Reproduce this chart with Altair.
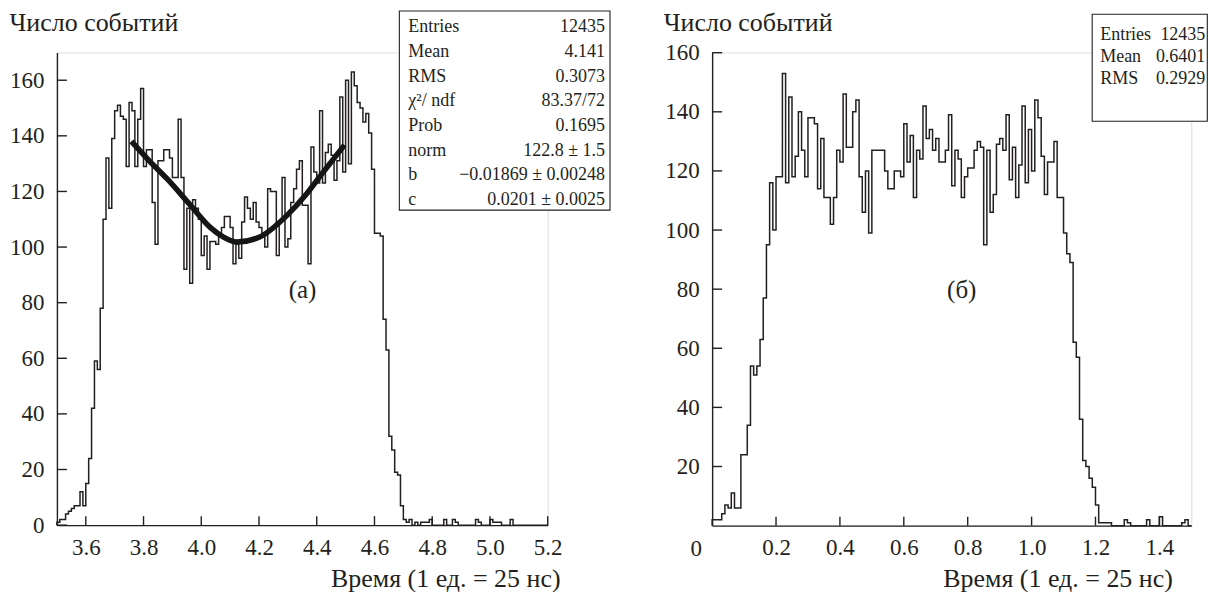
import altair as alt
import pandas as pd

FONT = "Liberation Serif"
INK = "#231f20"

# ---------------- data ----------------
left_lo, left_w = 3.5, 0.01
left_counts = [
    1, 2, 2, 4, 5, 6, 7, 7, 12, 7,
    15, 24, 42, 59, 56, 78, 110, 132, 114, 139,
    149, 151, 147, 146, 129, 152, 149, 129, 146, 157,
    129, 135, 135, 116, 101, 131, 131, 135, 135, 132,
    125, 125, 146, 125, 92, 114, 87, 117, 114, 110,
    97, 104, 92, 102, 102, 101, 104, 107, 111, 111,
    107, 94, 101, 96, 109, 118, 114, 110, 116, 109,
    107, 105, 100, 121, 120, 120, 97, 109, 125, 100,
    103, 116, 121, 128, 131, 115, 115, 94, 136, 127,
    123, 149, 123, 134, 137, 133, 124, 131, 154, 127,
    160, 130, 163, 158, 152, 150, 145, 148, 141, 128,
    105, 105, 104, 74, 63, 32, 27, 19, 18, 7,
    2, 1, 2, 0, 1, 0, 1, 1, 1, 2,
    0, 0, 0, 0, 2, 0, 0, 2, 1, 0,
    0, 0, 0, 0, 0, 2, 1, 0, 0, 0,
    2, 1, 1, 1, 0, 0, 0, 2, 0, 0,
    0, 0, 0, 0, 0, 0, 0, 0, 0, 0,
]

right_lo, right_w = 0.0, 0.01
right_counts = [
    2, 2, 2, 4, 7, 6, 11, 6, 6, 24,
    24, 34, 54, 51, 54, 63, 77, 95, 116, 100,
    118, 118, 153, 116, 145, 118, 125, 140, 127, 118,
    138, 138, 136, 114, 131, 111, 111, 102, 111, 127,
    123, 146, 128, 128, 140, 144, 118, 106, 120, 99,
    127, 127, 127, 127, 120, 114, 114, 120, 120, 118,
    136, 123, 132, 111, 127, 124, 142, 131, 134, 127,
    131, 123, 123, 127, 139, 115, 127, 124, 111, 118,
    121, 121, 127, 130, 128, 95, 127, 106, 112, 129,
    131, 127, 139, 117, 128, 111, 122, 142, 116, 134,
    120, 144, 138, 125, 112, 123, 123, 130, 111, 111,
    99, 92, 89, 62, 57, 36, 22, 20, 16, 13,
    7, 1, 1, 1, 1, 0, 0, 0, 0, 2,
    1, 0, 0, 0, 0, 0, 2, 0, 0, 0,
    3, 0, 0, 0, 0, 0, 0, 1, 2, 0,
]

# fitted curve
fit_x = [3.758, 3.82, 3.882, 3.963, 4.032, 4.077, 4.124, 4.2, 4.297, 4.36, 4.413, 4.496]
fit_y = [138.0, 131.0, 124.5, 115.0, 107.0, 103.6, 101.8, 103.5, 111.4, 118.5, 125.7, 136.7]

left_xticks = [3.6, 3.8, 4.0, 4.2, 4.4, 4.6, 4.8, 5.0, 5.2]
left_yticks = [0, 20, 40, 60, 80, 100, 120, 140, 160]
right_xticks = [0.2, 0.4, 0.6, 0.8, 1.0, 1.2, 1.4]
right_yticks = [20, 40, 60, 80, 100, 120, 140, 160]

left_stat_names = ["Entries", "Mean", "RMS", "χ²/ ndf", "Prob", "norm", "b", "c"]
left_stat_values = ["12435", "4.141", "0.3073", "83.37/72", "0.1695",
                    "122.8 ± 1.5", "−0.01869 ± 0.00248", "0.0201 ± 0.0025"]
right_stat_names = ["Entries", "Mean", "RMS"]
right_stat_values = ["12435", "0.6401", "0.2929"]

y_title = "Число событий"
x_title = "Время (1 ед. = 25 нс)"


def step_frame(lo, w, counts):
    rows = [{"x": lo, "y": 0, "k": 0}]
    k = 1
    for i, c in enumerate(counts):
        rows.append({"x": round(lo + i * w, 6), "y": c, "k": k}); k += 1
        rows.append({"x": round(lo + (i + 1) * w, 6), "y": c, "k": k}); k += 1
    return pd.DataFrame(rows)


one = pd.DataFrame({"a": [0]})


def panel(counts_df, xdom, ydom, W, H, xticks, yticks, ytitle_x, xtitle_x,
          box, rows_y, name_x, value_x, names, values, tag, tag_xy, extra=None):
    xs = alt.Scale(domain=xdom, nice=False, zero=False)
    ys = alt.Scale(domain=ydom, nice=False, zero=False)
    xaxis = alt.Axis(
        values=xticks, format=".1f", ticks=False, grid=False,
        domainColor=INK, domainWidth=1.4, labelFont=FONT, labelFontSize=23,
        labelColor=INK, labelPadding=11, labelFlush=False, labelOverlap=False,
        title=x_title, titleFont=FONT, titleFontSize=26, titleFontWeight="normal",
        titleColor=INK, titleAlign="right", titleBaseline="middle",
        titleX=xtitle_x, titleY=53)
    yaxis = alt.Axis(
        values=yticks, format="d", ticks=False, grid=False,
        domainColor=INK, domainWidth=1.4, labelFont=FONT, labelFontSize=23,
        labelColor=INK, labelPadding=13, labelOverlap=False, labelFlush=False,
        title=y_title, titleFont=FONT, titleFontSize=26, titleFontWeight="normal",
        titleColor=INK, titleAngle=0, titleAlign="left", titleBaseline="middle",
        titleX=ytitle_x, titleY=-30)
    hist = alt.Chart(counts_df).mark_line(color=INK, strokeWidth=1.5, strokeJoin="miter").encode(
        x=alt.X("x:Q", scale=xs, axis=xaxis, title=x_title),
        y=alt.Y("y:Q", scale=ys, axis=yaxis, title=y_title),
        order="k:Q",
    )
    ytk = alt.Chart(pd.DataFrame({"y": yticks})).mark_rule(color=INK, strokeWidth=1.4).encode(
        y=alt.Y("y:Q", scale=ys, axis=yaxis, title=y_title), x=alt.value(0), x2=alt.value(10))
    xtk = alt.Chart(pd.DataFrame({"x": xticks})).mark_rule(color=INK, strokeWidth=1.4).encode(
        x=alt.X("x:Q", scale=xs, axis=xaxis, title=x_title), y=alt.value(H), y2=alt.value(H - 9))
    layers = [hist, ytk, xtk]
    if extra is not None:
        layers.append(extra(xs, ys, xaxis, yaxis))
    bx0, bx1, by0, by1 = box
    layers.append(alt.Chart(one).mark_rect(fill="white", stroke=INK, strokeWidth=1.1).encode(
        x=alt.value(bx0), x2=alt.value(bx1), y=alt.value(by0), y2=alt.value(by1)))
    for k, (nm, vl) in enumerate(zip(names, values)):
        layers.append(alt.Chart(one).mark_text(font=FONT, fontSize=18, color=INK, align="left",
                                               baseline="middle").encode(
            x=alt.value(name_x), y=alt.value(rows_y[k]), text=alt.value(nm)))
        layers.append(alt.Chart(one).mark_text(font=FONT, fontSize=18, color=INK, align="right",
                                               baseline="middle").encode(
            x=alt.value(value_x), y=alt.value(rows_y[k]), text=alt.value(vl)))
    layers.append(alt.Chart(one).mark_text(font=FONT, fontSize=25, color=INK, align="center",
                                           baseline="middle").encode(
        x=alt.value(tag_xy[0]), y=alt.value(tag_xy[1]), text=alt.value(tag)))
    return alt.layer(*layers).properties(width=W, height=H)


def fit_layer(xs, ys, xaxis, yaxis):
    return alt.Chart(pd.DataFrame({"x": fit_x, "y": fit_y})).mark_line(
        color="#151515", strokeWidth=5.5, interpolate="monotone", strokeCap="butt").encode(
        x=alt.X("x:Q", scale=xs, axis=xaxis, title=x_title),
        y=alt.Y("y:Q", scale=ys, axis=yaxis, title=y_title))


LW, LH = 491.6, 473.5
left = panel(step_frame(left_lo, left_w, left_counts), [3.5, 5.2], [0, 170], LW, LH,
             left_xticks, left_yticks, -48, 504,
             (343, 554, -41.5, 158), [-25 + 24.7 * k for k in range(8)], 352, 549,
             left_stat_names, left_stat_values, "(а)", (246, 238), extra=fit_layer)

RW, RH = 480, 474


def zero_label(xs, ys, xaxis, yaxis):
    return alt.Chart(one).mark_text(font=FONT, fontSize=23, color=INK, align="center",
                                    baseline="middle").encode(
        x=alt.value(-16), y=alt.value(RH + 23), text=alt.value("0"))


right = panel(step_frame(right_lo, right_w, right_counts), [0, 1.5], [0, 160.1], RW, RH,
              right_xticks, right_yticks, -49, 461,
              (380.7, 496, -38.3, 69), [-17, 5, 27], 388.7, 494,
              right_stat_names, right_stat_values, "(б)", (250, 238), extra=zero_label)

chart = alt.hconcat(left, right, spacing=164.3, bounds="flush").properties(
    padding={"left": 0, "top": 0, "right": 0, "bottom": 0}
).configure_view(stroke=None).configure(background="white")

chart.save("out.html", embed_options={"renderer": "svg", "actions": False})
